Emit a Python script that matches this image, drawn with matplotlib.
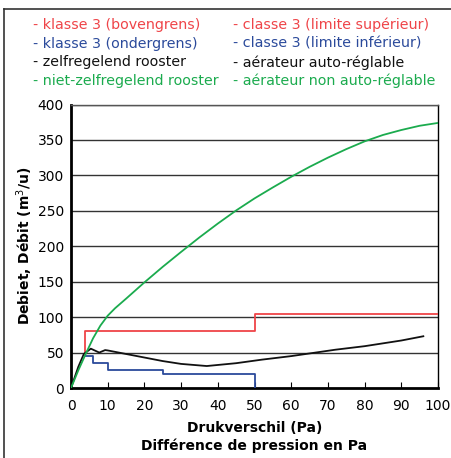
import matplotlib.pyplot as plt
from matplotlib.lines import Line2D

# Data
green_x = [0, 2, 4, 6, 8, 10, 12, 15, 20, 25, 30, 35, 40, 45, 50,
           55, 60, 65, 70, 75, 80, 85, 90, 95, 100]
green_y = [0, 25, 48, 70, 88, 102, 112.5, 126, 149, 171, 192, 212.5, 232, 250.5, 267.5,
           283, 298, 312, 325, 337, 348, 357, 364, 370, 374]

red_x = [3.7, 3.7, 50, 50, 100]
red_y = [50, 80, 80, 105, 105]

blue_x = [3.7, 6, 6, 10, 10, 25, 25, 50, 50]
blue_y = [45, 45, 35, 35, 25, 25, 20, 20, 0]

black_x = [0, 2, 3.5, 5.4, 7.7, 9.3, 10, 15, 20, 25, 30, 37, 45, 52, 60, 72, 80, 90, 96]
black_y = [0, 30, 48, 55.5, 50, 53.5, 53, 48, 43, 38, 34, 31, 35, 40, 45, 54, 59, 67, 73]

legend_nl = ["- klasse 3 (bovengrens)", "- klasse 3 (ondergrens)",
             "- zelfregelend rooster", "- niet-zelfregelend rooster"]
legend_fr = ["- classe 3 (limite supérieur)", "- classe 3 (limite inférieur)",
             "- aérateur auto-réglable", "- aérateur non auto-réglable"]

red = "#ef4448"
blue = "#2b4a9b"
green = "#1bab4e"
black = "#111111"
legend_colors = [red, blue, black, green]

W, H = 451, 458
fig = plt.figure(figsize=(W / 100, H / 100), dpi=100)
ax = fig.add_axes([71 / W, 1 - 388 / H, (438 - 71) / W, (388 - 104.5) / H])

# Grid lines
for v in range(50, 401, 50):
    ax.axhline(v, color="#333333", linewidth=1.0, zorder=1)

ax.plot(red_x, red_y, color=red, linewidth=1.3, zorder=3)
ax.plot(blue_x, blue_y, color=blue, linewidth=1.3, zorder=3)
ax.plot(black_x, black_y, color=black, linewidth=1.3, zorder=4)
ax.plot(green_x, green_y, color=green, linewidth=1.3, zorder=5)

ax.set_xlim(0, 100)
ax.set_ylim(0, 400)
ax.set_xticks(range(0, 101, 10))
ax.set_yticks(range(0, 401, 50))
ax.tick_params(axis="x", direction="in", length=4, labelsize=10, pad=8)
ax.tick_params(axis="y", length=0, labelsize=10, pad=5)

for side in ["left", "bottom"]:
    ax.spines[side].set_linewidth(2)
for side in ["top", "right"]:
    ax.spines[side].set_linewidth(1)
ax.spines["top"].set_color("#555555")

ax.set_xlabel("Drukverschil (Pa)\nDifférence de pression en Pa",
              fontsize=10, fontweight="bold", labelpad=6, linespacing=1.25)
ax.set_ylabel("Debiet, Débit (m$^3$/u)", fontsize=10, fontweight="bold",
              labelpad=2)

# Legend text at the top
for i in range(4):
    y = 1 - (25 + i * 18.7) / H
    fig.text(33 / W, y, legend_nl[i], color=legend_colors[i], fontsize=10.3,
             va="center", ha="left")
    fig.text(233 / W, y, legend_fr[i], color=legend_colors[i], fontsize=10.3,
             va="center", ha="left")

# Outer frame (left and top edges)
fig.add_artist(Line2D([4 / W, 4 / W], [0, 1 - 9 / H], color="#333333",
                      linewidth=1.2, transform=fig.transFigure))
fig.add_artist(Line2D([4 / W, 1], [1 - 9 / H, 1 - 9 / H], color="#333333",
                      linewidth=1.2, transform=fig.transFigure))

fig.savefig("out.png", dpi=100)
